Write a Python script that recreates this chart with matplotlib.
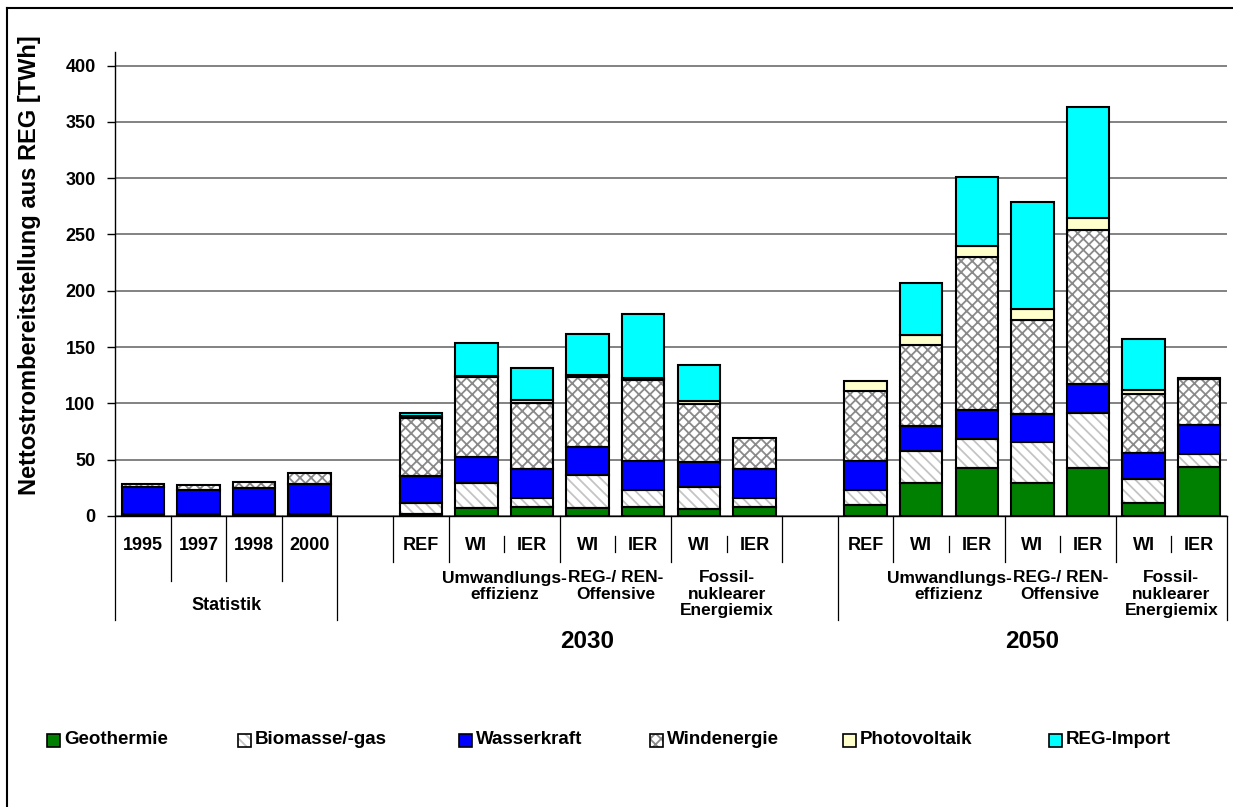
import matplotlib
matplotlib.use("Agg")
import matplotlib.pyplot as plt
from matplotlib.patches import Rectangle
from matplotlib.transforms import blended_transform_factory
import numpy as np

plt.rcParams["font.family"] = ["Liberation Sans", "DejaVu Sans"]
plt.rcParams["font.weight"] = "bold"
plt.rcParams["hatch.linewidth"] = 1.3

W, H = 1233, 807

# categories along the x axis ("" = empty spacer slot)
labels = ["1995", "1997", "1998", "2000", "",
          "REF", "WI", "IER", "WI", "IER", "WI", "IER", "",
          "REF", "WI", "IER", "WI", "IER", "WI", "IER"]
scenario_groups = ["Umwandlungs-\neffizienz", "REG-/ REN-\nOffensive",
                   "Fossil-\nnuklearer\nEnergiemix"]
years = ["2030", "2050"]

# net electricity from renewables, TWh
geo = [0, 0, 0, 0, 0,
       1.5, 6.8, 8.3, 6.8, 8.3, 5.9, 8.3, 0,
       9.8, 29.7, 42.4, 29.7, 42.4, 11.3, 43.3]
bio = [2.0, 2.0, 2.0, 2.0, 0,
       9.8, 22.2, 7.4, 29.6, 14.8, 19.6, 8.0, 0,
       13.3, 27.6, 25.8, 35.6, 49.0, 21.3, 11.9]
hydro = [23.5, 21.1, 23.1, 26.1, 0,
         24.5, 23.1, 25.7, 25.2, 26.0, 22.7, 25.1, 0,
         25.3, 22.8, 25.6, 25.2, 26.1, 23.2, 25.8]
wind = [2.6, 4.2, 4.8, 9.8, 0,
        51.5, 71.0, 59.2, 62.0, 72.0, 51.3, 27.6, 0,
        62.3, 71.5, 136.5, 83.4, 136.5, 52.8, 40.7]
pv = [0, 0, 0, 0, 0,
      1.5, 1.3, 2.4, 1.6, 1.5, 2.9, 0, 0,
      8.9, 9.5, 9.5, 9.5, 11.0, 3.6, 0.5]
imp = [0, 0, 0, 0, 0,
       2.5, 29.6, 28.7, 36.2, 56.8, 31.6, 0, 0,
       0, 46.0, 60.8, 95.5, 98.5, 45.1, 0]

series = [
    ("Geothermie", geo, "#008000", None, None),
    ("Biomasse/-gas", bio, "white", "\\\\\\", "#C4C4C4"),
    ("Wasserkraft", hydro, "#0000FF", None, None),
    ("Windenergie", wind, "white", "xxx", "#8A8A8A"),
    ("Photovoltaik", pv, "#FFFFCC", None, None),
    ("REG-Import", imp, "#00FFFF", None, None),
]


def fx(px):
    return px / W


def fy(py):
    return 1 - py / H


fig = plt.figure(figsize=(W / 100, H / 100), dpi=100)
ax = fig.add_axes([fx(115), fy(516), fx(1227) - fx(115), fy(52) - fy(516)])

x = np.arange(len(labels))
bottom = np.zeros(len(labels))
bw = 0.76
for name, vals, color, hatch, hcol in series:
    vals = np.array(vals, dtype=float)
    idx = vals > 0
    if hatch:
        ax.bar(x[idx], vals[idx], bw, bottom=bottom[idx], color=color,
               hatch=hatch, edgecolor=hcol, linewidth=0, zorder=3)
        ax.bar(x[idx], vals[idx], bw, bottom=bottom[idx], fill=False,
               edgecolor="black", linewidth=1.5, zorder=4)
    else:
        ax.bar(x[idx], vals[idx], bw, bottom=bottom[idx], color=color,
               edgecolor="black", linewidth=1.5, zorder=4)
    bottom += vals

ax.set_xlim(-0.5, len(labels) - 0.5)
ax.set_ylim(0, 412)
ax.set_yticks(np.arange(0, 401, 50))
ax.tick_params(axis="y", labelsize=13, length=6, width=1, direction="out", pad=8)
ax.tick_params(axis="x", length=0, labelbottom=False)
for lab in ax.get_yticklabels():
    lab.set_fontweight("bold")
ax.yaxis.grid(True, color="#606060", linewidth=1.1, zorder=0)
ax.set_axisbelow(True)
for s in ["top", "right"]:
    ax.spines[s].set_visible(False)
ax.spines["left"].set_linewidth(1)
ax.spines["bottom"].set_linewidth(1)

# multi-level category axis below the plot
tr = blended_transform_factory(ax.transData, fig.transFigure)


def vline(xd, y0, y1):
    ax.plot([xd, xd], [fy(y0), fy(y1)], color="black", linewidth=0.9,
            transform=tr, clip_on=False)


for i, lab in enumerate(labels):
    if lab:
        ax.text(i, fy(546), lab, transform=tr, ha="center", va="center",
                fontsize=13, fontweight="bold")

for xd in [0.5, 1.5, 2.5]:
    vline(xd, 516, 581)
for xd in [-0.5, 3.5, 12.5, 19.5]:
    vline(xd, 516, 620)
for start in [5, 13]:
    for xd in [start - 0.5, start + 0.5, start + 2.5, start + 4.5, start + 6.5]:
        if xd not in (12.5, 19.5):
            vline(xd, 516, 562)
    for xd in [start + 1.5, start + 3.5, start + 5.5]:
        vline(xd, 536, 552)

ax.text(1.5, fy(606), "Statistik", transform=tr, ha="center", va="center",
        fontsize=13, fontweight="bold")

line_y = [578, 594.5, 611]
for start in [6, 14]:
    for g, grp in enumerate(scenario_groups):
        for j, part in enumerate(grp.split("\n")):
            ax.text(start + 2 * g + 0.5, fy(line_y[j]), part, transform=tr,
                    ha="center", va="center", fontsize=12.5, fontweight="bold")

for xc, yr in zip([8, 16], years):
    ax.text(xc, fy(642), yr, transform=tr, ha="center", va="center",
            fontsize=17.5, fontweight="bold")

fig.text(fx(30), fy(265), "Nettostrombereitstellung aus REG [TWh]",
         rotation=90, ha="center", va="center", fontsize=17, fontweight="bold")

# legend row
leg_x = [47, 238, 459, 650, 843, 1049]
for lx, (name, vals, color, hatch, hcol) in zip(leg_x, series):
    box = (fx(lx), fy(747))
    bw_f, bh_f = fx(13), fy(734) - fy(747)
    if hatch:
        fig.patches.append(Rectangle(box, bw_f, bh_f, transform=fig.transFigure,
                                     facecolor=color, hatch=hatch, edgecolor=hcol,
                                     linewidth=0))
        fig.patches.append(Rectangle(box, bw_f, bh_f, transform=fig.transFigure,
                                     fill=False, edgecolor="black", linewidth=1.2))
    else:
        fig.patches.append(Rectangle(box, bw_f, bh_f, transform=fig.transFigure,
                                     facecolor=color, edgecolor="black", linewidth=1.2))
    fig.text(fx(lx + 17), fy(740), name, ha="left", va="center",
             fontsize=13.5, fontweight="bold")

# frame around the chart (top and left edges)
fig.add_artist(plt.Line2D([fx(7), fx(7)], [fy(8), 0], color="black", linewidth=1.5,
                          transform=fig.transFigure))
fig.add_artist(plt.Line2D([fx(7), 1], [fy(8), fy(8)], color="black", linewidth=1.5,
                          transform=fig.transFigure))

fig.savefig("out.png", dpi=100)
